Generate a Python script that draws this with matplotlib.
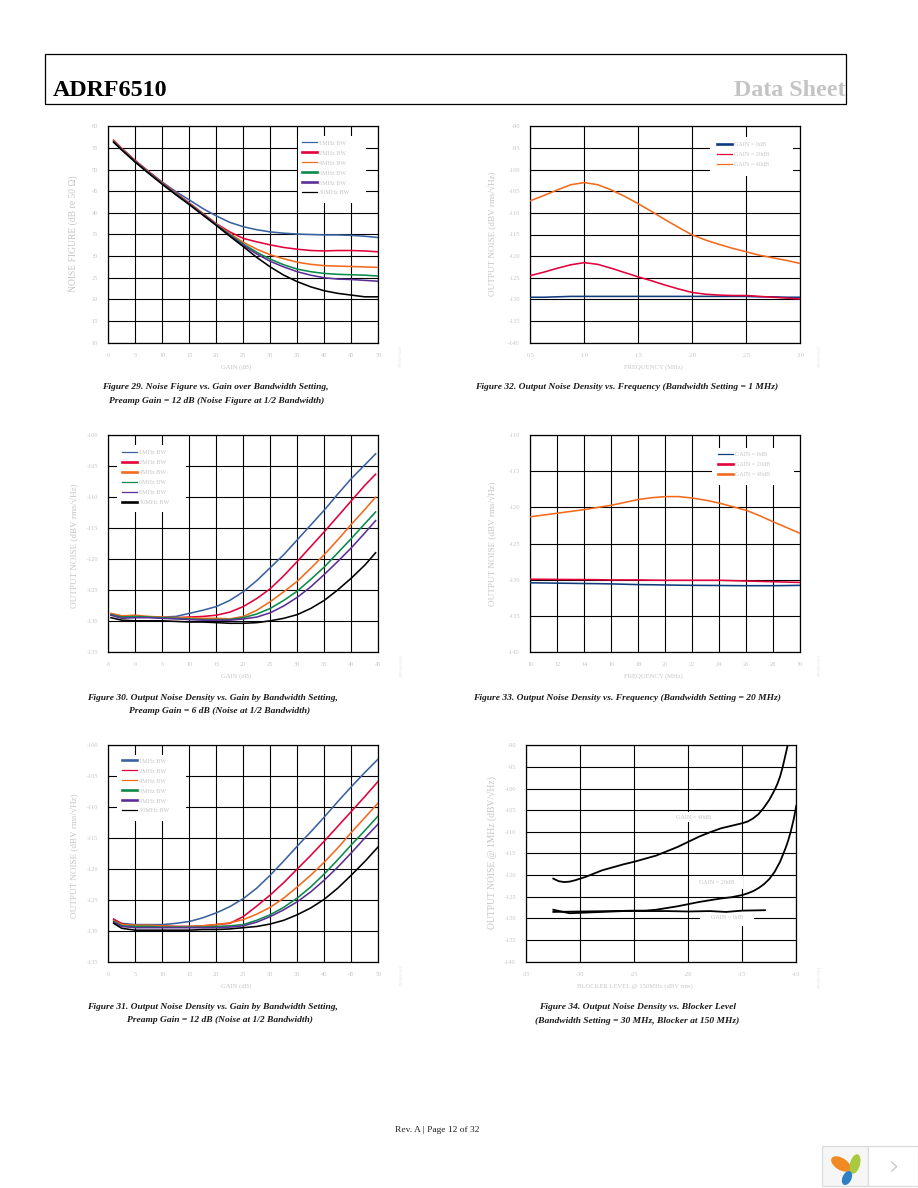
"""
ADRF6510 data sheet page 12: six noise plots read off the page image.
"""
import matplotlib
matplotlib.use('Agg')
import matplotlib.pyplot as plt
from matplotlib.patches import Rectangle, Ellipse

plt.rcParams['font.family'] = ['Liberation Serif', 'DejaVu Serif']
plt.rcParams['axes.unicode_minus'] = False

W, H = 918, 1188
GREY = '#c6c6c6'

BLUE = '#3a62a0'
NAVY = '#0f3a7c'
RED = '#e4003a'
ORANGE = '#f26a1b'
GREEN = '#0a8a4b'
PURPLE = '#5b2f96'
BLACK = '#000000'

#%% Data
bw_labels = ['1MHz BW', '2MHz BW', '4MHz BW', '6MHz BW', '8MHz BW', '30MHz BW']
bw_colors = [BLUE, RED, ORANGE, GREEN, PURPLE, BLACK]
gain_labels = ['GAIN = 0dB', 'GAIN = 20dB', 'GAIN = 40dB']
gain_colors = [NAVY, RED, ORANGE]

# Figure 29
gain29 = [1, 2.5, 5, 7.5, 10, 12.5, 15, 17.5, 20, 22.5, 25, 27.5, 30, 32.5, 35, 37.5, 40, 42.5, 45, 47.5, 50]
nf29_1 = [56.6, 54.8, 52, 49.5, 47.1, 44.9, 43, 41, 39.3, 37.8, 36.8, 36.1, 35.6, 35.3, 35.1, 35, 34.9, 34.9, 34.8, 34.6, 34.3]
nf29_2 = [56.8, 54.9, 52.1, 49.5, 47, 44.6, 42.3, 39.9, 37.5, 35.6, 34.1, 33.3, 32.6, 32, 31.6, 31.3, 31.2, 31.3, 31.3, 31.2, 31]
nf29_4 = [56.7, 54.8, 52, 49.4, 46.9, 44.5, 42.2, 39.8, 37.4, 35.2, 33.2, 31.6, 30.3, 29.4, 28.6, 28.1, 27.8, 27.7, 27.6, 27.5, 27.4]
nf29_6 = [56.5, 54.7, 51.9, 49.3, 46.8, 44.4, 42.1, 39.7, 37.3, 35, 32.8, 30.9, 29.3, 28, 27, 26.4, 26, 25.8, 25.7, 25.6, 25.4]
nf29_8 = [56.4, 54.6, 51.8, 49.2, 46.7, 44.3, 42, 39.6, 37.2, 34.8, 32.5, 30.5, 28.8, 27.5, 26.4, 25.6, 25, 24.7, 24.6, 24.4, 24.2]
nf29_30 = [56.3, 54.5, 51.7, 49.1, 46.6, 44.2, 41.9, 39.5, 37.1, 34.6, 32.2, 29.7, 27.5, 25.6, 24.1, 22.9, 22, 21.4, 21, 20.6, 20.6]

# Figure 30
gain30 = [-4.5, -2.5, 0, 2.5, 5, 7.5, 10, 12.5, 15, 17.5, 20, 22.5, 25, 27.5, 30, 32.5, 35, 37.5, 40, 42.5, 44.5]
n30_1 = [-129, -129.3, -129.4, -129.4, -129.4, -129.3, -128.8, -128.3, -127.7, -126.7, -125.3, -123.5, -121.4, -119.3, -116.9, -114.5, -112.1, -109.5, -107, -104.8, -103]
n30_2 = [-128.9, -129.3, -129.3, -129.4, -129.5, -129.5, -129.4, -129.3, -129.1, -128.6, -127.7, -126.4, -124.8, -122.7, -120.4, -118, -115.6, -113.1, -110.6, -108.1, -106.3]
n30_4 = [-128.8, -129.2, -129.1, -129.3, -129.4, -129.5, -129.5, -129.6, -129.6, -129.7, -129.3, -128.3, -126.9, -125.3, -123.6, -121.5, -119.3, -116.9, -114.4, -112, -110]
n30_6 = [-129, -129.4, -129.3, -129.4, -129.5, -129.6, -129.7, -129.8, -129.8, -129.8, -129.5, -128.9, -128, -126.7, -125.2, -123.3, -121.3, -119, -116.7, -114.3, -112.4]
n30_8 = [-129.1, -129.6, -129.5, -129.5, -129.6, -129.7, -129.8, -129.9, -129.9, -129.9, -129.7, -129.4, -128.7, -127.6, -126.2, -124.5, -122.5, -120.4, -118.2, -115.8, -113.8]
n30_30 = [-129.5, -129.9, -130, -130, -130, -130.1, -130.2, -130.2, -130.3, -130.4, -130.4, -130.3, -130, -129.6, -129, -128, -126.7, -125, -123.1, -121, -119]

# Figure 31
gain31 = [1, 2.5, 5, 7.5, 10, 12.5, 15, 17.5, 20, 22.5, 25, 27.5, 30, 32.5, 35, 37.5, 40, 42.5, 45, 47.5, 50]
n31_1 = [-128.2, -128.8, -129, -129, -129, -128.8, -128.5, -127.9, -127.1, -126.1, -124.8, -123.1, -121, -118.7, -116.3, -114, -111.6, -109.1, -106.7, -104.4, -102.2]
n31_2 = [-128.1, -128.9, -129.2, -129.2, -129.2, -129.3, -129.3, -129.2, -129, -128.8, -127.7, -126, -124.2, -122.2, -120, -117.8, -115.5, -113.1, -110.7, -108.3, -105.8]
n31_4 = [-128.4, -129, -129.1, -129.1, -129.2, -129.3, -129.3, -129.2, -129, -128.7, -128.2, -127.3, -126.2, -124.7, -122.9, -121, -118.9, -116.6, -114.1, -111.7, -109.3]
n31_6 = [-128.5, -129.2, -129.3, -129.3, -129.4, -129.4, -129.4, -129.4, -129.3, -129.2, -129, -128.3, -127.4, -126.2, -124.7, -122.9, -120.8, -118.5, -116.1, -113.8, -111.4]
n31_8 = [-128.6, -129.3, -129.5, -129.5, -129.5, -129.5, -129.5, -129.5, -129.5, -129.4, -129.2, -128.6, -127.7, -126.6, -125.3, -123.7, -121.8, -119.7, -117.4, -115, -112.7]
n31_30 = [-128.8, -129.6, -129.9, -129.9, -129.9, -129.9, -129.9, -129.8, -129.8, -129.7, -129.5, -129.3, -128.9, -128.3, -127.4, -126.3, -124.9, -123.1, -121, -118.8, -116.4]

# Figure 32
freq32 = [0.5, 0.625, 0.75, 0.875, 1.0, 1.125, 1.25, 1.375, 1.5, 1.625, 1.75, 1.875, 2.0, 2.125, 2.25, 2.375, 2.5, 2.625, 2.75, 2.875, 3.0]
n32_0 = [-129.5, -129.5, -129.4, -129.3, -129.3, -129.3, -129.3, -129.3, -129.3, -129.3, -129.3, -129.3, -129.3, -129.3, -129.3, -129.3, -129.3, -129.4, -129.4, -129.5, -129.5]
n32_20 = [-124.5, -123.7, -122.8, -122, -121.5, -121.9, -122.8, -123.8, -124.8, -125.7, -126.7, -127.6, -128.4, -128.8, -129, -129.1, -129.1, -129.3, -129.5, -129.7, -129.9]
n32_40 = [-107.2, -106, -104.7, -103.5, -103, -103.5, -104.7, -106.2, -107.9, -109.7, -111.6, -113.4, -115.1, -116.3, -117.3, -118.2, -119, -119.8, -120.4, -121, -121.7]

# Figure 33
freq33 = list(range(10, 31))
n33_0 = [-130.45, -130.47, -130.5, -130.52, -130.55, -130.57, -130.6, -130.65, -130.7, -130.72, -130.75, -130.78, -130.8, -130.81, -130.82, -130.84, -130.85, -130.85, -130.85, -130.83, -130.8]
n33_20 = [-129.95, -129.96, -129.98, -129.99, -130, -130.02, -130.05, -130.05, -130.05, -130.08, -130.1, -130.1, -130.1, -130.1, -130.1, -130.15, -130.2, -130.25, -130.3, -130.35, -130.4]
n33_40 = [-121.3, -121.05, -120.8, -120.55, -120.3, -120, -119.7, -119.3, -118.9, -118.65, -118.5, -118.5, -118.7, -119, -119.4, -119.9, -120.4, -121.15, -122, -122.8, -123.6]

# Figure 34
blk40 = [-32.5, -32, -31.5, -31, -30.5, -30, -29.5, -29, -28.5, -28, -27, -26, -25, -24, -23, -22, -21, -20, -19, -18, -17, -16, -15, -14.5, -14, -13.5, -13, -12.5, -12, -11.75, -11.5, -11.25, -11, -10.8]
n34_40 = [-120.8, -121.4, -121.6, -121.5, -121.2, -120.8, -120.4, -119.9, -119.4, -118.9, -118.2, -117.5, -116.9, -116.2, -115.5, -114.5, -113.5, -112.3, -111.1, -110.1, -109.2, -108.6, -108, -107.6, -106.9, -105.9, -104.4, -102.6, -100.3, -98.9, -97.2, -94.9, -92.2, -90]
blk20 = [-32.5, -30, -27, -25, -24, -23, -22, -21, -20, -19, -18, -17, -16, -15, -14.5, -14, -13.5, -13, -12.5, -12, -11.5, -11, -10.75, -10.5, -10.25, -10]
n34_20 = [-128.5, -128.4, -128.3, -128.2, -128.2, -128, -127.6, -127.2, -126.7, -126.2, -125.8, -125.4, -125.1, -124.6, -124.2, -123.7, -123, -122.1, -120.9, -119.2, -116.9, -113.8, -112, -109.8, -107.2, -104]
blk0 = [-32.5, -31, -30, -28, -26, -24, -22, -20, -18, -16.5, -15, -12.9]
n34_0 = [-128, -128.8, -128.7, -128.5, -128.3, -128.3, -128.3, -128.4, -128.3, -128.5, -128.2, -128.1]

# tick labels
ticks_gain50 = list(range(0, 51, 5))
ticks_gain45 = list(range(-5, 46, 5))
ticks_freq32 = [0.5, 1.0, 1.5, 2.0, 2.5, 3.0]
ticks_freq33 = list(range(10, 31, 2))
ticks_blk = [-35, -30, -25, -20, -15, -10]
ticks_nf = list(range(10, 61, 5))
ticks_n90 = list(range(-140, -89, 5))
ticks_n100 = list(range(-135, -99, 5))
ticks_n110 = list(range(-140, -109, 5))

#%% Figure and page layer
fig = plt.figure(figsize=(W / 100, H / 100), dpi=100, facecolor='white')

page = fig.add_axes([0, 0, 1, 1])
page.set_xlim(0, W)
page.set_ylim(H, 0)
page.axis('off')


def make_panel(left, top, xlim, ylim, xticks, yticks, xlabel, ylabel, xlabel_x, ylabel_x, ylabel_y,
               ylabel_size=6.6, fmt='%g'):
    # every panel is 270 x 216 px on the page, label positions are page pixels too
    width, height = 270, 216.4
    ax = fig.add_axes([left / W, 1 - (top + height) / H, width / W, height / H])
    ax.set_xlim(*xlim)
    ax.set_ylim(*ylim)
    ax.set_xticks(xticks)
    ax.set_yticks(yticks)
    ax.set_xticklabels([fmt % t for t in xticks])
    ax.set_yticklabels(['%g' % t for t in yticks])
    ax.grid(True, color='black', lw=0.8)
    ax.set_axisbelow(True)
    ax.tick_params(length=0, labelsize=4.6, labelcolor=GREY, pad=7.5)
    for s in ax.spines.values():
        s.set_linewidth(0.9)
    ax.set_xlabel(xlabel, fontsize=4.8, color=GREY, va='center')
    ax.xaxis.set_label_coords((xlabel_x - left) / width, -24.3 / height)
    ax.set_ylabel(ylabel, fontsize=ylabel_size, color=GREY, va='center')
    ax.yaxis.set_label_coords((ylabel_x - left) / width, 1 - (ylabel_y - top) / height)
    return ax


def add_legend(ax, left, top, width, height, hx, hy, labels, colors, widths):
    # white patch behind the key, given in page pixels
    bb = ax.get_position()
    ax.add_patch(Rectangle(((left / W - bb.x0) / bb.width, (1 - (top + height) / H - bb.y0) / bb.height),
                           width / W / bb.width, height / H / bb.height,
                           transform=ax.transAxes, fc='white', ec='none', zorder=1))
    handles = [plt.Line2D([], [], color=c, lw=w) for c, w in zip(colors, widths)]
    ax.legend(handles, labels, loc='upper left', frameon=False, fontsize=4.4,
              labelcolor=GREY, handlelength=2.4, handletextpad=0.4, labelspacing=0.77,
              borderpad=0, borderaxespad=0,
              bbox_to_anchor=((hx / W - bb.x0) / bb.width, (1 - hy / H - bb.y0) / bb.height))


def curves(ax, x, series, colors, lw=1.15):
    for y, c in zip(series, colors):
        ax.plot(x, y, color=c, lw=lw, zorder=3)


THIN, THICK = 0.9, 1.9
NOISE = 'OUTPUT NOISE (dBV rms/\u221aHz)'

#%% Left column
ax29 = make_panel(108.3, 126.3, (0, 50), (10, 60), ticks_gain50, ticks_nf, 'GAIN (dB)', 'NOISE FIGURE (dB re 50 \u03a9)',
                  236, 73, 234, ylabel_size=6.9)
curves(ax29, gain29, [nf29_1, nf29_2, nf29_4, nf29_6, nf29_8, nf29_30], bw_colors)
add_legend(ax29, 297.7, 136.3, 68.3, 66.7, 302, 140.3, bw_labels, bw_colors, [THIN, THICK, THIN, THICK, THICK, THIN])

ax30 = make_panel(108.3, 435.3, (-5, 45), (-135, -100), ticks_gain45, ticks_n100, 'GAIN (dB)', NOISE, 236, 75, 546)
curves(ax30, gain30, [n30_1, n30_2, n30_4, n30_6, n30_8, n30_30], bw_colors)
add_legend(ax30, 117, 445, 69, 66.7, 122, 449.7, bw_labels, bw_colors, [THIN, THICK, THICK, THIN, THIN, THICK])

ax31 = make_panel(108.3, 745.3, (0, 50), (-135, -100), ticks_gain50, ticks_n100, 'GAIN (dB)', NOISE, 236, 75, 856)
curves(ax31, gain31, [n31_1, n31_2, n31_4, n31_6, n31_8, n31_30], bw_colors)
add_legend(ax31, 117, 755, 69, 66, 122, 758.3, bw_labels, bw_colors, [THICK, THIN, THIN, THICK, THICK, THIN])

#%% Right column
ax32 = make_panel(530.3, 126.3, (0.5, 3.0), (-140, -90), ticks_freq32, ticks_n90, 'FREQUENCY (MHz)', NOISE,
                  653, 493, 234, fmt='%.1f')
curves(ax32, freq32, [n32_0, n32_20, n32_40], gain_colors)
add_legend(ax32, 710, 137, 83, 39, 717, 142, gain_labels, gain_colors, [THICK, THIN, THIN])

ax33 = make_panel(530.3, 435.3, (10, 30), (-140, -110), ticks_freq33, ticks_n110, 'FREQUENCY (MHz)', NOISE, 653, 493, 544)
curves(ax33, freq33, [n33_0, n33_20, n33_40], gain_colors)
add_legend(ax33, 712, 448, 82, 37, 718, 451.7, gain_labels, gain_colors, [THIN, THICK, THICK])

ax34 = make_panel(526.3, 745.3, (-35, -10), (-140, -90), ticks_blk, ticks_n90, 'BLOCKER LEVEL @ 150MHz (dBV rms)',
                  'OUTPUT NOISE @ 1MHz (dBV/\u221aHz)', 635, 491.7, 853, ylabel_size=6.9)
ax34.plot(blk0, n34_0, color=BLACK, lw=1.3, zorder=3)
ax34.plot(blk20, n34_20, color=BLACK, lw=1.3, zorder=3)
ax34.plot(blk40, n34_40, color=BLACK, lw=1.3, zorder=3)
for x0, y0, w, h, label in [(-21.6, -107.8, 4.2, 2.4, 'GAIN = 40dB'),
                            (-19.8, -123.3, 4.9, 3.0, 'GAIN = 20dB'),
                            (-18.9, -131.7, 5.0, 3.6, 'GAIN = 0dB')]:
    ax34.add_patch(Rectangle((x0, y0), w, h, fc='white', ec='none', zorder=1))
    ax34.text(x0 + w / 2, y0 + h / 2, label, fontsize=4.4, color=GREY, ha='center', va='center', zorder=2)

#%% Header, captions, footer
page.add_patch(Rectangle((45.3, 54.3), 800.4, 50, fc='none', ec='black', lw=0.9))
page.text(53, 95.5, 'ADRF6510', fontsize=17.3, fontweight='bold', color='black', ha='left', va='baseline')
page.text(846, 95.5, 'Data Sheet', fontsize=17.3, fontweight='bold', color='#c4c4c4', ha='right', va='baseline')

captions = [(215.7, 387.3, 'Figure 29. Noise Figure vs. Gain over Bandwidth Setting,'),
            (216.7, 401.3, 'Preamp Gain = 12 dB (Noise Figure at 1/2 Bandwidth)'),
            (627, 387.3, 'Figure 32. Output Noise Density vs. Frequency (Bandwidth Setting = 1 MHz)'),
            (212.5, 697.7, 'Figure 30. Output Noise Density vs. Gain by Bandwidth Setting,'),
            (219.8, 710.7, 'Preamp Gain = 6 dB (Noise at 1/2 Bandwidth)'),
            (626.7, 697.7, 'Figure 33. Output Noise Density vs. Frequency (Bandwidth Setting = 20 MHz)'),
            (212.5, 1007, 'Figure 31. Output Noise Density vs. Gain by Bandwidth Setting,'),
            (219.7, 1020, 'Preamp Gain = 12 dB (Noise at 1/2 Bandwidth)'),
            (637.7, 1006.7, 'Figure 34. Output Noise Density vs. Blocker Level'),
            (637.5, 1020.7, '(Bandwidth Setting = 30 MHz, Blocker at 150 MHz)')]
for x, y, s in captions:
    page.text(x, y, s, fontsize=6.8, style='italic', fontweight='bold', color='#1a1a1a', ha='center', va='center')

page.text(437, 1130, 'Rev. A | Page 12 of 32', fontsize=6.8, color='#222222', ha='center', va='center')

# faint figure codes beside the plots
for x, y, s in [(401, 356, '09560-029'), (402, 665, '09560-030'), (402, 975, '09560-031'),
                (820, 356, '09560-032'), (820, 665, '09560-033'), (820, 977, '09560-034')]:
    page.text(x, y, s, fontsize=3.6, rotation=90, color='#e2e2e2', ha='center', va='center')

#%% Viewer widget in the bottom right corner
page.add_patch(Rectangle((822, 1146), 46, 39.7, fc='#f6f6f6', ec='#dcdcdc', lw=0.9))
page.add_patch(Rectangle((868, 1146), 49.5, 39.7, fc='white', ec='#dcdcdc', lw=0.9))
page.add_patch(Ellipse((841, 1164), 22, 12, angle=32, fc='#f08a24', ec='none'))
page.add_patch(Ellipse((855, 1164), 10, 20, angle=15, fc='#a9c93f', ec='none'))
page.add_patch(Ellipse((847, 1178), 9, 15, angle=25, fc='#2f7fc4', ec='none'))
page.plot([891.7, 896.7, 891.7], [1162, 1166.7, 1171], color='#bdbdbd', lw=0.8)

fig.savefig('out.png', dpi=100)
